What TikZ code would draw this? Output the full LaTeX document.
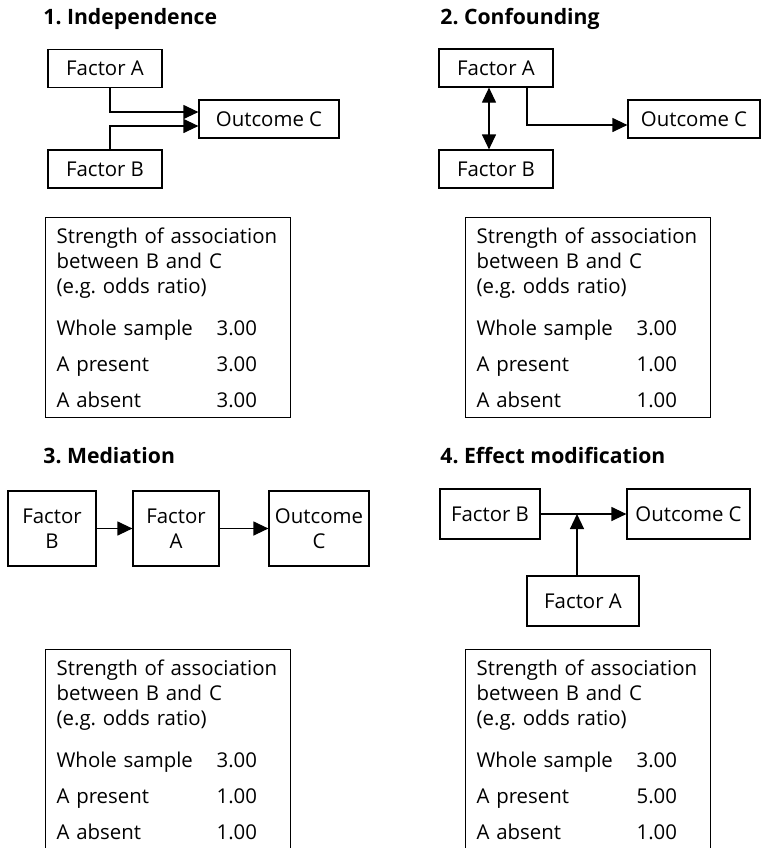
\documentclass[tikz,border=0pt]{standalone}
\usepackage{fontspec}
\setmainfont{Open Sans}
\usepackage{tikz}
\usetikzlibrary{arrows.meta,positioning,calc}
\frenchspacing

\begin{document}
\begin{tikzpicture}[
    x=0.5pt, y=-0.5pt,
    every node/.style={font=\fontsize{10.2}{12.5}\selectfont},
    title/.style={anchor=base west, inner sep=0pt, font=\fontsize{10.6}{12.5}\selectfont\bfseries},
    factor/.style={rectangle, draw, line width=0.6pt, inner sep=0pt, minimum width=57pt, minimum height=19pt, align=center},
    bigfactor/.style={factor, minimum height=37.5pt},
    midfactor/.style={factor, minimum height=25pt},
    assoc/.style={rectangle, draw, line width=0.6pt, anchor=north west, text width=111.5pt, inner xsep=5.5pt, inner ysep=0pt, minimum height=100pt, align=left},
    arrow/.style={line width=0.6pt, -{Triangle[length=7.5pt,width=7pt]}},
    twoway/.style={line width=0.6pt, {Triangle[length=7.5pt,width=7pt]}-{Triangle[length=7.5pt,width=7pt]}}
]
\useasboundingbox (0,0) rectangle (761,848);

\node[title] (title1) at (43,24) {1. Independence};
\node[title] (title2) at (440,24) {2. Confounding};
\node[title] (title3) at (43,463) {3. Mediation};
\node[title] (title4) at (440,463) {4. Effect modification};

\node[factor] (factorA1) at (105,68.5) {Factor A};
\node[factor] (factorB1) at (105,169) {Factor B};
\node[factor, minimum width=70pt] (outcome1) at (269,119) {Outcome C};
\draw[arrow] ([xshift=2.5pt]factorA1.south) |- ([yshift=3.5pt]outcome1.west);
\draw[arrow] ([xshift=2.5pt]factorB1.north) |- ([yshift=-3.5pt]outcome1.west);

\node[factor] (factorA2) at (496,68) {Factor A};
\node[factor] (factorB2) at (496,169) {Factor B};
\node[factor, minimum width=66pt] (outcome2) at (694,119) {Outcome C};
\draw[twoway] ([xshift=-3.5pt]factorA2.south) -- ([xshift=-3.5pt]factorB2.north);
\draw[arrow] ([xshift=15.5pt]factorA2.south) |- ([yshift=-3pt]outcome2.west);

\node[bigfactor, minimum width=44pt] (factorB3) at (52,528.5) {Factor\\B};
\node[bigfactor, minimum width=43pt] (factorA3) at (176,528.5) {Factor\\A};
\node[bigfactor, minimum width=50pt] (outcome3) at (319,528.5) {Outcome\\C};
\draw[arrow] (factorB3) -- (factorA3);
\draw[arrow] (factorA3) -- (outcome3);

\node[midfactor, minimum width=50pt] (factorB4) at (490,514) {Factor B};
\node[midfactor, minimum width=61.5pt] (outcome4) at (688.5,514) {Outcome C};
\node[midfactor, minimum width=56pt] (factorA4) at (583,601) {Factor A};
\coordinate (modifier4) at (577,514);
\draw[arrow] (factorB4) -- (outcome4);
\draw[arrow] (factorA4.north -| modifier4) -- (modifier4);

\node[assoc] (table1) at (45,217) {Strength of association\\between B and C\\(e.g. odds ratio)\\[8.8pt]
  \makebox[80pt][l]{Whole sample}3.00\\[5.3pt]\makebox[80pt][l]{A present}3.00\\[5.3pt]\makebox[80pt][l]{A absent}3.00};
\node[assoc] (table2) at (465,217) {Strength of association\\between B and C\\(e.g. odds ratio)\\[8.8pt]
  \makebox[80pt][l]{Whole sample}3.00\\[5.3pt]\makebox[80pt][l]{A present}1.00\\[5.3pt]\makebox[80pt][l]{A absent}1.00};
\node[assoc] (table3) at (45,649) {Strength of association\\between B and C\\(e.g. odds ratio)\\[8.8pt]
  \makebox[80pt][l]{Whole sample}3.00\\[5.3pt]\makebox[80pt][l]{A present}1.00\\[5.3pt]\makebox[80pt][l]{A absent}1.00};
\node[assoc] (table4) at (465,649) {Strength of association\\between B and C\\(e.g. odds ratio)\\[8.8pt]
  \makebox[80pt][l]{Whole sample}3.00\\[5.3pt]\makebox[80pt][l]{A present}5.00\\[5.3pt]\makebox[80pt][l]{A absent}1.00};

\end{tikzpicture}
\end{document}
